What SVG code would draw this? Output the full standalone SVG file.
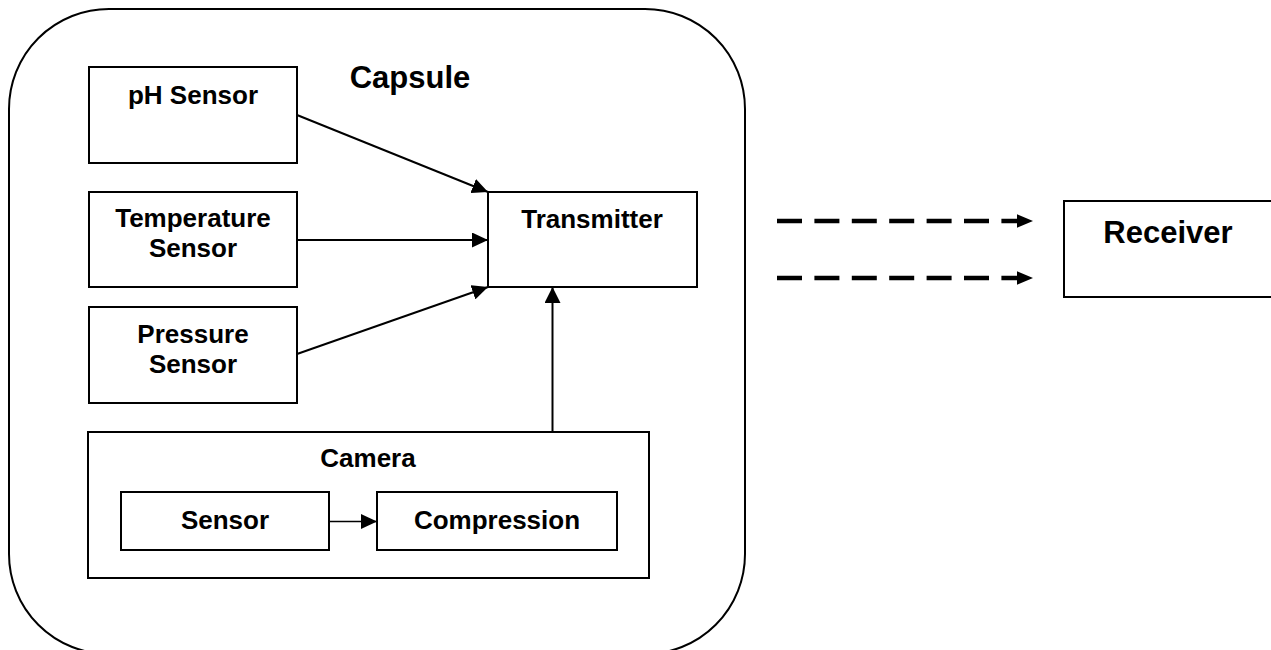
<svg xmlns="http://www.w3.org/2000/svg" width="1271" height="650" viewBox="0 0 1271 650">
  <style>
    .box { fill: #ffffff; stroke: #000000; stroke-width: 2; }
    .shell { fill: none; stroke: #000000; stroke-width: 2; }
    .lbl { font-family: "Liberation Sans", Arial, sans-serif; font-weight: bold; font-size: 26px; fill: #000000; text-anchor: middle; }
    .big { font-size: 31px; }
    .wire { stroke: #000000; stroke-width: 2; fill: none; }
    .thin { stroke-width: 1.5; }
    .radio { stroke: #000000; stroke-width: 4.3; stroke-dasharray: 25 12.4; fill: none; }
  </style>
  <defs>
    <marker id="arrow" markerUnits="userSpaceOnUse" markerWidth="16" markerHeight="15" refX="16" refY="7.5" orient="auto">
      <path d="M0,0 L16,7.5 L0,15 Z" fill="#000000"/>
    </marker>
    <marker id="arrow-wide" markerUnits="userSpaceOnUse" markerWidth="16" markerHeight="16" refX="16" refY="8" orient="auto">
      <path d="M0,0 L16,8 L0,16 Z" fill="#000000"/>
    </marker>
  </defs>

  <rect x="0" y="0" width="1271" height="650" fill="#ffffff"/>

  <!-- capsule outline -->
  <g id="capsule">
    <rect class="shell" x="9" y="9" width="736" height="645" rx="100" ry="100"/>
    <text class="lbl big" x="410" y="88">Capsule</text>
  </g>

  <g id="ph-sensor">
    <rect class="box" x="89" y="67" width="208" height="96"/>
    <text class="lbl" x="193" y="104">pH Sensor</text>
  </g>

  <g id="temperature-sensor">
    <rect class="box" x="89" y="192" width="208" height="95"/>
    <text class="lbl" x="193" y="227">Temperature</text>
    <text class="lbl" x="193" y="257">Sensor</text>
  </g>

  <g id="pressure-sensor">
    <rect class="box" x="89" y="307" width="208" height="96"/>
    <text class="lbl" x="193" y="343">Pressure</text>
    <text class="lbl" x="193" y="373">Sensor</text>
  </g>

  <g id="transmitter">
    <rect class="box" x="488" y="192" width="209" height="95"/>
    <text class="lbl" x="592" y="228">Transmitter</text>
  </g>

  <g id="camera">
    <rect class="box" x="88" y="432" width="561" height="146"/>
    <text class="lbl" x="368" y="467">Camera</text>
  </g>

  <g id="image-sensor">
    <rect class="box" x="121" y="492" width="208" height="58"/>
    <text class="lbl" x="225" y="529">Sensor</text>
  </g>

  <g id="compression">
    <rect class="box" x="377" y="492" width="240" height="58"/>
    <text class="lbl" x="497" y="529">Compression</text>
  </g>

  <g id="receiver">
    <rect class="box" x="1064" y="201" width="250" height="96"/>
    <text class="lbl big" x="1168" y="243">Receiver</text>
  </g>

  <!-- connectors -->
  <g id="connectors">
    <line class="wire" x1="297" y1="115" x2="488" y2="192" marker-end="url(#arrow)"/>
    <line class="wire" x1="297" y1="240" x2="488" y2="240" marker-end="url(#arrow)"/>
    <line class="wire" x1="297" y1="354" x2="488" y2="287" marker-end="url(#arrow)"/>
    <line class="wire" x1="552.5" y1="432" x2="552.5" y2="287" marker-end="url(#arrow-wide)"/>
    <line class="wire thin" x1="329" y1="521.5" x2="377" y2="521.5" marker-end="url(#arrow)"/>
    <!-- wireless links to the receiver -->
    <line class="radio" x1="777" y1="221" x2="1019" y2="221"/>
    <line class="radio" x1="777" y1="278" x2="1019" y2="278"/>
    <path d="M1017,214.3 L1033,221 L1017,227.7 Z" fill="#000000"/>
    <path d="M1017,271.3 L1033,278 L1017,284.7 Z" fill="#000000"/>
  </g>
</svg>
